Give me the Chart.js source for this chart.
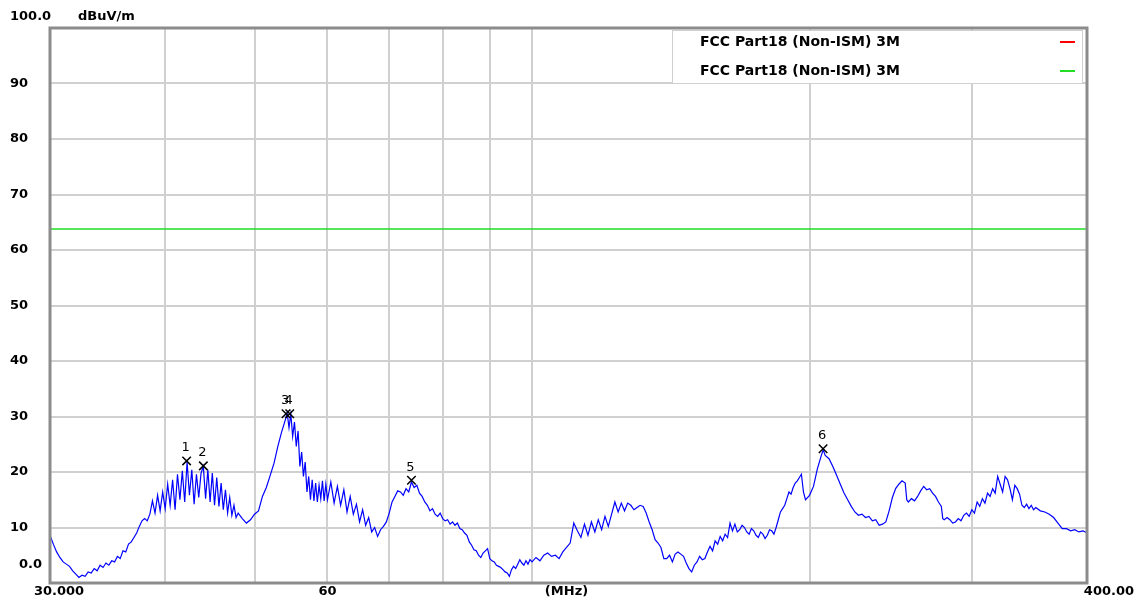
<!DOCTYPE html>
<html>
<head>
<meta charset="utf-8">
<script src="https://cdn.jsdelivr.net/npm/chart.js@4.4.1/dist/chart.umd.min.js"></script>
<style>
  html, body { margin: 0; padding: 0; background: #fff; }
  #wrap { width: 1137px; height: 606px; position: relative; }
</style>
</head>
<body>
<div id="wrap"><canvas id="chart"></canvas></div>
<script>
const band1Freq = [
  30, 30.25, 30.5, 30.75, 31, 31.25, 31.5, 31.75, 32, 32.25, 32.5, 32.75, 33, 33.25, 33.5, 33.75, 34, 34.25,
  34.5, 34.75, 35, 35.25, 35.5, 35.75, 36, 36.25, 36.5, 36.75, 37, 37.25, 37.5, 37.75, 38, 38.25,
  38.5, 38.75, 39, 39.25, 39.5, 39.75, 40, 40.25, 40.5, 40.75, 41, 41.25, 41.5, 41.75, 42, 42.25, 42.5, 42.75,
  43, 43.25, 43.5, 43.75, 44, 44.25, 44.5, 44.75, 45, 45.25, 45.5, 45.75, 46, 46.25, 46.5, 46.75, 47, 47.25,
  47.5, 47.75, 48, 48.5, 49, 49.5, 50
];
const band1Level = [
  8.6, 7.0, 5.6, 4.6, 3.8, 3.4, 3.0, 2.2, 1.6, 1.0, 1.4, 1.2, 2.0, 1.8, 2.6, 2.2, 3.2, 2.8,
  3.6, 3.2, 4.0, 3.8, 4.8, 4.4, 5.8, 5.6, 7.0, 7.4, 8.2, 9.0, 10.2, 11.2, 11.6, 11.2,
  12.4, 14.8, 12.6, 15.8, 13.0, 16.4, 13.4, 17.8, 14.0, 18.6, 13.2, 19.6, 15.0, 20.2, 14.6, 21.8, 15.8, 20.4,
  14.2, 19.6, 15.4, 19.8, 21.0, 15.2, 20.4, 14.6, 19.8, 14.0, 19.0, 13.8, 18.0, 13.2, 16.8, 12.6, 15.4, 12.2,
  14.0, 11.8, 12.6, 11.6, 10.8, 11.4, 12.4
];
const band2Freq = [
  50.5, 51, 51.5, 52, 52.5, 53, 53.5, 54, 54.25, 54.5, 54.75, 55, 55.25, 55.5, 55.75, 56, 56.25, 56.5, 56.75,
  57, 57.25, 57.5, 57.75, 58, 58.25, 58.5, 58.75, 59, 59.25, 59.5, 59.75, 60
];
const band2Level = [
  13.0, 15.6, 17.2, 19.4, 21.6, 24.6, 27.2, 29.4, 30.6, 28.0, 30.4, 26.4, 29.0, 24.6, 27.4, 21.0, 23.6, 19.2, 21.8,
  16.4, 19.2, 15.0, 18.6, 14.8, 18.0, 14.6, 17.6, 15.2, 18.4, 14.8, 17.8, 15.0
];
const band3Freq = [
  60.5, 61, 61.5, 62, 62.5, 63, 63.5, 64, 64.5, 65, 65.5, 66, 66.5, 67, 67.5, 68, 68.5, 69,
  69.5, 70, 70.5, 71, 71.5, 72, 72.5, 73, 73.5, 74, 74.5, 75, 75.5, 76, 76.5, 77, 77.5, 78, 78.5, 79,
  79.5, 80, 80.5, 81, 81.5, 82, 82.5, 83, 83.5, 84, 84.5, 85, 85.5, 86, 86.5, 87, 87.5, 88, 88.5, 89,
  89.5, 90, 90.5, 91, 91.5, 92, 92.5, 93, 93.5, 94, 94.5, 95, 95.5, 96, 96.5, 97, 97.5, 98, 98.5, 99,
  99.5, 100
];
const band3Level = [
  18.2, 14.4, 17.4, 14.0, 16.8, 12.8, 15.6, 12.4, 14.2, 11.0, 13.2, 10.4, 11.8, 9.2, 10.0, 8.4, 9.6, 10.2,
  11.0, 12.6, 14.6, 15.6, 16.6, 16.4, 15.8, 17.0, 16.4, 18.2, 17.2, 17.6, 16.2, 15.6, 14.6, 14.0, 13.0, 13.4, 12.4, 12.0,
  12.6, 11.6, 11.2, 11.4, 10.6, 11.0, 10.4, 10.8, 9.8, 9.6, 9.0, 8.6, 7.4, 6.8, 6.0, 5.8, 5.0, 4.6, 5.4, 5.8,
  6.2, 4.4, 4.0, 3.8, 3.2, 3.0, 2.8, 2.4, 2.0, 1.8, 1.2, 2.4, 3.0, 2.6, 3.4, 4.2, 3.6, 3.2, 4.0, 3.4,
  4.2, 3.8
];
const band4Freq = [
  101, 102, 103, 104, 105, 106, 107, 108, 109, 110, 111, 112, 113, 114, 115, 116, 117, 118, 119, 120,
  121, 122, 123, 124, 125, 126, 127, 128, 129, 130, 131, 132, 133, 134, 135, 136, 137, 138, 139, 140,
  141, 142, 143, 144, 145, 146, 147, 148, 149, 150, 151, 152, 153, 154, 155, 156, 157, 158, 159, 160,
  161, 162, 163, 164, 165, 166, 167, 168, 169, 170, 171, 172, 173, 174, 175, 176, 177, 178, 179, 180,
  181, 182, 183, 184, 185, 186, 187, 188, 189, 190, 191, 192, 193, 194, 195, 196, 197, 198, 199, 200
];
const band4Level = [
  4.6, 4.0, 5.0, 5.4, 4.8, 5.0, 4.4, 5.6, 6.4, 7.2, 10.8, 9.4, 8.2, 10.6, 8.6, 11.0, 9.2, 11.4, 9.6, 12.0,
  10.2, 12.4, 14.6, 12.8, 14.4, 13.0, 14.4, 14.0, 13.2, 13.6, 14.0, 13.8, 12.6, 11.0, 9.6, 7.8, 7.2, 6.4, 4.4, 4.4,
  5.0, 3.8, 5.2, 5.6, 5.2, 4.8, 3.6, 2.6, 2.0, 3.2, 3.8, 4.8, 4.2, 4.4, 5.6, 6.6, 5.8, 7.6, 7.0, 8.4,
  7.6, 8.8, 8.2, 10.8, 9.4, 10.6, 9.2, 9.6, 10.4, 10.0, 9.2, 8.8, 9.8, 9.4, 8.6, 8.2, 9.2, 8.8, 8.0, 8.6,
  9.6, 9.4, 8.8, 10.0, 11.4, 12.8, 13.4, 14.0, 15.2, 16.4, 16.0, 17.2, 18.0, 18.4, 19.0, 19.6, 16.4, 15.0, 15.4, 15.8
];
const band5Freq = [
  202, 204, 206, 207, 208, 210, 212, 214, 216, 218, 220, 222, 224, 226, 228, 230, 232, 234, 236, 238, 240,
  242, 244, 246, 248, 250, 252, 254, 255, 256, 258, 260, 262, 264, 266, 268, 270, 272, 274, 276, 278, 279,
  280, 282, 284, 286, 288, 290, 292, 294, 296, 298, 300, 302, 304, 306, 308, 310, 312, 314, 316, 318, 320,
  322, 324, 326, 328, 330, 332, 334, 336, 338, 340, 342, 344, 346, 348, 350, 352, 356, 360, 364, 368, 372,
  376, 380, 384, 388, 392, 396, 400
];
const band5Level = [
  17.4, 20.6, 23.0, 24.0, 23.0, 22.4, 21.0, 19.4, 17.8, 16.2, 15.0, 13.8, 12.8, 12.2, 12.4, 11.8, 12.0, 11.2, 11.4, 10.4, 10.6,
  11.0, 13.0, 15.4, 17.0, 17.8, 18.4, 18.0, 15.0, 14.6, 15.2, 14.8, 15.6, 16.6, 17.4, 16.8, 17.0, 16.2, 15.6, 14.6, 13.8, 11.6,
  11.4, 11.8, 11.4, 10.8, 11.0, 11.6, 11.2, 12.2, 12.6, 12.0, 13.2, 12.6, 14.6, 13.8, 15.2, 14.4, 16.2, 15.6, 17.0, 16.2, 19.2,
  17.8, 16.4, 19.2, 18.6, 17.0, 15.0, 17.6, 17.0, 16.0, 14.0, 13.6, 14.2, 13.4, 14.0, 13.2, 13.6, 13.0, 12.8, 12.4, 11.8, 10.8,
  9.8, 9.8, 9.4, 9.6, 9.2, 9.4, 9.0
];

// limit lines
const limitNames = ['FCC Part18 (Non-ISM) 3M', 'FCC Part18 (Non-ISM) 3M'];
const limitFreq = [30, 400];
const limitGreenLevel = [63.8, 63.8];

// peak markers
const markerNames = ['1', '2', '3', '4', '5', '6'];
const markerFreq = [42.2, 44.0, 54.1, 54.6, 74.0, 206.9];
const markerLevel = [22.0, 21.1, 30.5, 30.5, 18.5, 24.2];

// axes
const xGridValues = [30, 40, 50, 60, 70, 80, 90, 100, 200, 300, 400];
const xTickValues = [30, 60, 109, 400];
const xTickTexts = ['30.000', '60', '(MHz)', '400.00'];
const yTickValues = [0, 10, 20, 30, 40, 50, 60, 70, 80, 90, 100];
const yTickTexts = ['0.0', '10', '20', '30', '40', '50', '60', '70', '80', '90', '100.0'];
const yUnit = 'dBuV/m';

const FONT_AXIS = 'bold 13px "DejaVu Sans"';
const FONT_LEGEND = 'bold 14px "DejaVu Sans"';
const FONT_MARK = '13px "DejaVu Sans"';

const toPoints = (xs, ys) => xs.map((x, i) => ({ x: x, y: ys[i] }));

const traceFreq = [].concat(band1Freq, band2Freq, band3Freq, band4Freq, band5Freq);
const traceLevel = [].concat(band1Level, band2Level, band3Level, band4Level, band5Level);

const extras = {
  id: 'extras',
  afterDatasetsDraw(chart) {
    const ctx = chart.ctx;
    // marker numbers
    const meta = chart.getDatasetMeta(0);
    ctx.save();
    ctx.fillStyle = '#000';
    ctx.font = FONT_MARK;
    ctx.textAlign = 'center';
    ctx.textBaseline = 'middle';
    meta.data.forEach((pt, i) => {
      ctx.fillText(markerNames[i], pt.x - 1, pt.y - 13);
    });
    ctx.restore();
  },
  afterDraw(chart) {
    const ctx = chart.ctx;
    const area = chart.chartArea;
    const xs = chart.scales.x;
    const ys = chart.scales.y;
    ctx.save();

    // plot frame
    ctx.strokeStyle = '#8c8c8c';
    ctx.lineWidth = 3;
    ctx.strokeRect(area.left, area.top, area.right - area.left, area.bottom - area.top);

    ctx.fillStyle = '#000';
    ctx.font = FONT_AXIS;
    ctx.textBaseline = 'middle';

    // y labels
    yTickValues.forEach((v, i) => {
      const y = ys.getPixelForValue(v);
      ctx.textAlign = 'left';
      if (i === 0) ctx.fillText(yTickTexts[i], 19, y - 18);
      else if (i === yTickValues.length - 1) ctx.fillText(yTickTexts[i], 10, y - 11);
      else ctx.fillText(yTickTexts[i], 10, y);
    });
    ctx.fillText(yUnit, 78, ys.getPixelForValue(100) - 11);

    // x labels
    const ly = area.bottom + 9;
    xTickValues.forEach((v, i) => {
      const x = xs.getPixelForValue(v);
      if (i === 0) { ctx.textAlign = 'left'; ctx.fillText(xTickTexts[i], x - 16, ly); }
      else if (i === xTickValues.length - 1) { ctx.textAlign = 'right'; ctx.fillText(xTickTexts[i], x + 47, ly); }
      else { ctx.textAlign = 'center'; ctx.fillText(xTickTexts[i], x, ly); }
    });

    // legend box
    const bx = 672, by = 30, bw = 410, bh = 53;
    ctx.fillStyle = '#fff';
    ctx.fillRect(bx, by, bw, bh);
    ctx.strokeStyle = '#d0d0d0';
    ctx.lineWidth = 1;
    ctx.strokeRect(bx + 0.5, by + 0.5, bw, bh);
    ctx.font = FONT_LEGEND;
    const items = chart.data.datasets.filter(d => d.inBox);
    items.forEach((d, i) => {
      const ry = by + 12 + i * 29;
      ctx.fillStyle = '#000';
      ctx.textAlign = 'left';
      ctx.fillText(d.label, 700, ry);
      ctx.strokeStyle = d.borderColor;
      ctx.lineWidth = 2;
      ctx.beginPath();
      ctx.moveTo(1060, ry);
      ctx.lineTo(1075, ry);
      ctx.stroke();
    });
    ctx.restore();
  }
};

new Chart(document.getElementById('chart'), {
  type: 'line',
  data: {
    datasets: [
      {
        label: 'Markers',
        type: 'scatter',
        data: toPoints(markerFreq, markerLevel),
        pointStyle: 'crossRot',
        pointRadius: 6,
        borderColor: '#000',
        borderWidth: 1.5,
        order: 0
      },
      {
        label: 'Trace',
        data: toPoints(traceFreq, traceLevel),
        borderColor: '#0000ff',
        borderWidth: 1.2,
        pointRadius: 0,
        tension: 0,
        order: 1
      },
      {
        label: limitNames[0],
        data: [],
        borderColor: '#ff0000',
        borderWidth: 1,
        pointRadius: 0,
        inBox: true,
        order: 2
      },
      {
        label: limitNames[1],
        data: toPoints(limitFreq, limitGreenLevel),
        borderColor: '#22dd22',
        borderWidth: 1.5,
        pointRadius: 0,
        inBox: true,
        order: 3
      }
    ]
  },
  options: {
    responsive: true,
    maintainAspectRatio: false,
    animation: false,
    events: [],
    layout: { padding: { top: 28, right: 50, left: 50, bottom: 23 } },
    plugins: { legend: { display: false }, tooltip: { enabled: false } },
    scales: {
      x: {
        type: 'logarithmic',
        min: 30,
        max: 400,
        afterBuildTicks: (scale) => { scale.ticks = xGridValues.map(v => ({ value: v })); },
        afterFit: (scale) => { scale.height = 0; },
        ticks: { display: false },
        border: { display: false },
        grid: { color: '#d0d0d0', lineWidth: 2, drawTicks: false }
      },
      y: {
        min: 0,
        max: 100,
        afterFit: (scale) => { scale.width = 0; },
        ticks: { display: false, stepSize: 10 },
        border: { display: false },
        grid: { color: '#d0d0d0', lineWidth: 2, drawTicks: false }
      }
    }
  },
  plugins: [extras]
});
</script>
</body>
</html>
